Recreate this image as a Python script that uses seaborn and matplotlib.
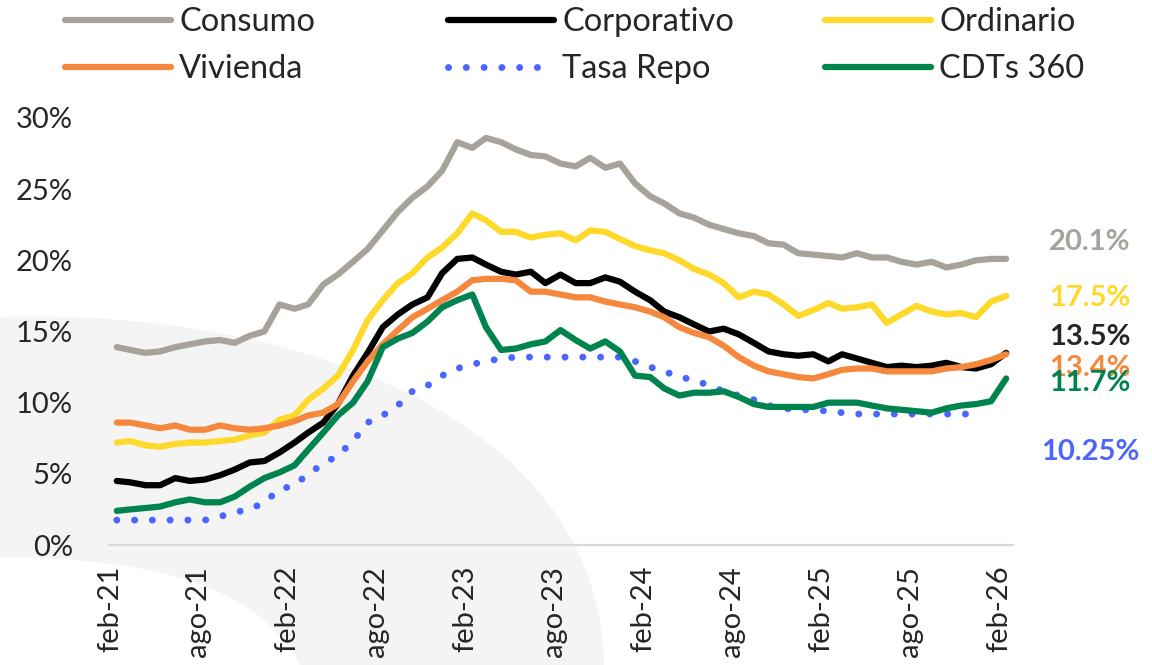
import numpy as np
import pandas as pd
import seaborn as sns
import matplotlib.pyplot as plt
from matplotlib.path import Path
from matplotlib.patches import PathPatch

# Monthly rates (%), feb-21 .. feb-26
dates = pd.date_range("2021-02-01", periods=61, freq="MS") + pd.Timedelta(days=14)

consumo = [13.9, 13.7, 13.5, 13.6, 13.9, 14.1, 14.3, 14.4, 14.2, 14.7,
           15.0, 16.9, 16.6, 16.9, 18.3, 19.0, 19.9, 20.8, 22.1, 23.4,
           24.4, 25.2, 26.3, 28.3, 27.9, 28.6, 28.3, 27.8, 27.4, 27.3,
           26.8, 26.6, 27.2, 26.5, 26.8, 25.4, 24.5, 24.0, 23.3, 23.0,
           22.5, 22.2, 21.9, 21.7, 21.2, 21.1, 20.5, 20.4, 20.3, 20.2,
           20.5, 20.2, 20.2, 19.9, 19.7, 19.9, 19.5, 19.7, 20.0, 20.1,
           20.1]
corporativo = [4.5, 4.4, 4.2, 4.2, 4.7, 4.5, 4.6, 4.9, 5.3, 5.8,
               5.9, 6.5, 7.2, 7.9, 8.6, 9.9, 11.9, 13.5, 15.3, 16.2,
               16.9, 17.4, 19.1, 20.1, 20.2, 19.7, 19.2, 19.0, 19.2, 18.4,
               19.0, 18.4, 18.4, 18.8, 18.5, 17.8, 17.2, 16.4, 16.0, 15.5,
               15.0, 15.2, 14.8, 14.2, 13.6, 13.4, 13.3, 13.4, 12.9, 13.4,
               13.1, 12.8, 12.5, 12.6, 12.5, 12.6, 12.8, 12.5, 12.4, 12.7,
               13.5]
ordinario = [7.2, 7.3, 7.0, 6.9, 7.1, 7.2, 7.2, 7.3, 7.4, 7.7,
             7.9, 8.8, 9.1, 10.2, 11.0, 11.9, 13.7, 15.8, 17.2, 18.4,
             19.1, 20.2, 20.9, 21.9, 23.3, 22.8, 22.0, 22.0, 21.6, 21.8,
             21.9, 21.4, 22.1, 22.0, 21.5, 21.0, 20.7, 20.5, 20.0, 19.4,
             19.0, 18.4, 17.4, 17.8, 17.6, 16.9, 16.1, 16.5, 17.0, 16.6,
             16.7, 16.9, 15.6, 16.2, 16.8, 16.4, 16.2, 16.3, 16.0, 17.1,
             17.5]
vivienda = [8.6, 8.6, 8.4, 8.2, 8.4, 8.1, 8.1, 8.4, 8.2, 8.1,
            8.2, 8.4, 8.7, 9.1, 9.3, 9.9, 11.5, 12.9, 14.1, 15.1,
            16.0, 16.6, 17.2, 17.8, 18.6, 18.7, 18.7, 18.6, 17.8, 17.8,
            17.6, 17.4, 17.4, 17.1, 16.9, 16.7, 16.4, 16.0, 15.3, 14.9,
            14.6, 14.0, 13.2, 12.6, 12.2, 12.0, 11.8, 11.7, 12.0, 12.3,
            12.4, 12.4, 12.2, 12.2, 12.2, 12.2, 12.4, 12.5, 12.7, 13.0,
            13.4]
tasa_repo = [1.75, 1.75, 1.75, 1.75, 1.75, 1.75, 1.75, 2.0, 2.3, 2.5,
             3.0, 3.9, 4.2, 5.0, 5.7, 6.3, 7.3, 8.6, 9.1, 9.8,
             10.8, 11.2, 11.9, 12.4, 12.7, 12.9, 13.1, 13.2, 13.2, 13.2,
             13.2, 13.2, 13.2, 13.2, 13.2, 12.9, 12.5, 12.2, 11.8, 11.6,
             11.2, 10.8, 10.5, 10.2, 9.8, 9.6, 9.5, 9.5, 9.4, 9.3,
             9.2, 9.2, 9.2, 9.2, 9.2, 9.2, 9.2, 9.2, 9.2, np.nan,
             np.nan]
cdts_360 = [2.4, 2.5, 2.6, 2.7, 3.0, 3.2, 3.0, 3.0, 3.4, 4.1,
            4.7, 5.1, 5.6, 6.7, 7.9, 9.1, 10.0, 11.5, 13.9, 14.5,
            14.9, 15.7, 16.7, 17.2, 17.6, 15.3, 13.7, 13.8, 14.1, 14.3,
            15.1, 14.4, 13.8, 14.3, 13.6, 11.9, 11.8, 11.0, 10.5, 10.7,
            10.7, 10.8, 10.4, 9.9, 9.7, 9.7, 9.7, 9.7, 10.0, 10.0,
            10.0, 9.8, 9.6, 9.5, 9.4, 9.3, 9.6, 9.8, 9.9, 10.1,
            11.7]

names = ["Consumo", "Corporativo", "Ordinario", "Vivienda", "Tasa Repo", "CDTs 360"]
series = [consumo, corporativo, ordinario, vivienda, tasa_repo, cdts_360]
colors = ["#A8A29C", "#000000", "#FFD92A", "#F5883C", "#4A66FF", "#00844F"]
end_labels = ["20.1%", "17.5%", "13.5%", "13.4%", "11.7%", "10.25%"]
label_colors = ["#A8A29C", "#FFD92A", "#262626", "#F5883C", "#00844F", "#4A66FF"]

tick_dates = pd.date_range("2021-02-01", "2026-02-01", freq="6MS")
tick_labels = ["feb-21", "ago-21", "feb-22", "ago-22", "feb-23", "ago-23",
               "feb-24", "ago-24", "feb-25", "ago-25", "feb-26"]

sns.set_theme(style="white")
plt.rcParams["font.family"] = ["Lato", "DejaVu Sans"]

W, H = 1152, 665
fig = plt.figure(figsize=(W / 100, H / 100), dpi=100)

# faint watermark band in the background
def fp(x, y):
    return (x / W, 1 - y / H)

verts = [fp(0, 317), fp(300, 308), fp(600, 420), fp(604, 665),
         fp(300, 665),
         fp(260, 585), fp(150, 558), fp(0, 557),
         fp(0, 317)]
codes = [Path.MOVETO, Path.CURVE4, Path.CURVE4, Path.CURVE4,
         Path.LINETO,
         Path.CURVE4, Path.CURVE4, Path.CURVE4,
         Path.CLOSEPOLY]
fig.patches.append(PathPatch(Path(verts, codes), transform=fig.transFigure,
                             facecolor="#F4F4F4", edgecolor="none", zorder=-5))

ax = fig.add_axes([109 / W, 1 - 545 / H, (1013 - 109) / W, (545 - 118) / H])
ax.set_facecolor("none")

for name, vals, col in zip(names, series, colors):
    if name == "Tasa Repo":
        sns.lineplot(x=dates, y=vals, ax=ax, color=col, lw=5.0,
                     linestyle=(0, (0.01, 2.55)), dash_capstyle="round", legend=False)
    else:
        sns.lineplot(x=dates, y=vals, ax=ax, color=col, lw=4.5,
                     solid_capstyle="round", legend=False)

ax.set_ylim(0, 30)
ax.set_yticks(range(0, 31, 5))
ax.set_yticklabels([f"{v}%" for v in range(0, 31, 5)])
ax.set_xlim(pd.Timestamp("2021-01-30"), pd.Timestamp("2026-03-01"))
ax.set_xticks(tick_dates)
ax.set_xticklabels(tick_labels, rotation=90)
ax.set_xlabel("")
ax.set_ylabel("")

sns.despine(ax=ax, left=True)
ax.spines["bottom"].set_color("#D9D9D9")
ax.spines["bottom"].set_linewidth(1.6)
ax.tick_params(axis="y", length=0, pad=26, labelsize=21, labelcolor="#262626")
ax.tick_params(axis="x", direction="out", length=6, width=1.6, color="#D9D9D9",
               pad=9, labelsize=21, labelcolor="#262626")
ax.grid(False)

# legend: three columns of two entries
lines = ax.get_lines()
col_x = [65, 448, 825]
for k, x0 in enumerate(col_x):
    fig.legend(handles=[lines[k], lines[k + 3]], labels=[names[k], names[k + 3]],
               loc="upper left", bbox_to_anchor=(x0 / W, 1 - 7 / H),
               frameon=False, fontsize=23.5, handlelength=3.25, handletextpad=0.25,
               labelspacing=0.52, borderpad=0, borderaxespad=0)

# end-of-series labels
label_y = [242, 298, 337, 368, 383, 452]
for txt, c, y in zip(end_labels, label_colors, label_y):
    fig.text(1090 / W, 1 - y / H, txt, color=c, fontsize=21, fontweight="bold",
             ha="center", va="center")

fig.savefig("out.png", dpi=100)
